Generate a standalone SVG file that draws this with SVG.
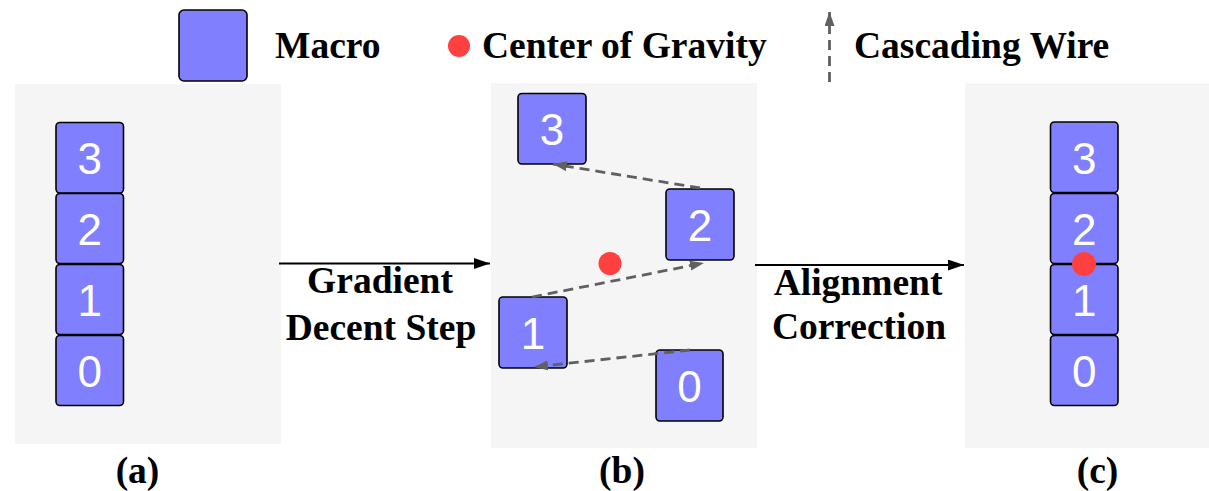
<svg xmlns="http://www.w3.org/2000/svg" width="1209" height="491" viewBox="0 0 1209 491">
<style>
.bg{fill:#f5f5f5}
.macro{fill:#8080ff;stroke:#000;stroke-width:1.6}
.num{font-family:"Liberation Sans",Arial,sans-serif;font-size:44px;fill:#fff;text-anchor:middle}
.lbl{font-family:"Liberation Serif","Times New Roman",serif;font-weight:bold;font-size:37.5px;fill:#000}
.mid{text-anchor:middle}
.wire{stroke:#606060;stroke-width:2.8;stroke-dasharray:10 6;fill:none;marker-end:url(#gh)}
.step{stroke:#000;stroke-width:2.2;fill:none;marker-end:url(#bh)}
.cog{fill:#ff4040}
</style>
<defs>
<marker id="gh" viewBox="0 0 14 10" refX="14" refY="5" markerWidth="14" markerHeight="10" markerUnits="userSpaceOnUse" orient="auto"><path d="M0,0 L14,5 L0,10 Z" fill="#606060"/></marker>
<marker id="bh" viewBox="0 0 16 11" refX="16" refY="5.5" markerWidth="16" markerHeight="11" markerUnits="userSpaceOnUse" orient="auto"><path d="M0,0 L16,5.5 L0,11 Z" fill="#000"/></marker>
</defs>

<g id="legend">
<rect class="macro" x="179" y="10" width="68" height="71" rx="5"/>
<text class="lbl" x="275" y="58">Macro</text>
<circle class="cog" cx="459" cy="46" r="11"/>
<text class="lbl" x="482" y="58">Center of Gravity</text>
<line class="wire" x1="829.5" y1="82" x2="829.5" y2="12"/>
<text class="lbl" x="854" y="58">Cascading Wire</text>
</g>

<g id="panel-a">
<rect class="bg" x="15" y="84" width="266" height="360"/>
<rect class="macro" x="56" y="122.5" width="67.5" height="70.5" rx="4"/>
<text class="num" x="89.7" y="174">3</text>
<rect class="macro" x="56" y="193.5" width="67.5" height="70" rx="4"/>
<text class="num" x="89.7" y="245">2</text>
<rect class="macro" x="56" y="264.5" width="67.5" height="70" rx="4"/>
<text class="num" x="89.7" y="316">1</text>
<rect class="macro" x="56" y="335.5" width="67.5" height="70" rx="4"/>
<text class="num" x="89.7" y="387">0</text>
<text class="lbl mid" x="137.5" y="483">(a)</text>
</g>

<g id="panel-b">
<rect class="bg" x="491" y="83" width="266" height="365"/>
<g id="b-macro3"><rect class="macro" x="518" y="93.5" width="68" height="70.5" rx="4"/><text class="num" x="552" y="145">3</text></g>
<g id="b-macro2"><rect class="macro" x="666" y="189" width="68" height="71" rx="4"/><text class="num" x="700" y="241">2</text></g>
<g id="b-macro1"><rect class="macro" x="499" y="297" width="68" height="71" rx="4"/><text class="num" x="533" y="349">1</text></g>
<g id="b-macro0"><rect class="macro" x="656" y="350" width="67" height="71" rx="4"/><text class="num" x="689.5" y="402">0</text></g>
<circle class="cog" cx="610" cy="263.5" r="11.5"/>
<text class="lbl mid" x="622" y="483">(b)</text>
</g>

<g id="panel-c">
<rect class="bg" x="965" y="83" width="244" height="365"/>
<rect class="macro" x="1050.5" y="122" width="67.5" height="70.5" rx="4"/>
<text class="num" x="1084.2" y="174">3</text>
<rect class="macro" x="1050.5" y="193.5" width="67.5" height="70" rx="4"/>
<text class="num" x="1084.2" y="245">2</text>
<rect class="macro" x="1050.5" y="264.5" width="67.5" height="70" rx="4"/>
<text class="num" x="1084.2" y="316">1</text>
<rect class="macro" x="1050.5" y="335.5" width="67.5" height="70" rx="4"/>
<text class="num" x="1084.2" y="387">0</text>
<circle class="cog" cx="1084" cy="264" r="12"/>
<text class="lbl mid" x="1097.5" y="483">(c)</text>
</g>

<g id="connectors">
<line class="wire" x1="700" y1="188" x2="553" y2="164"/>
<line class="wire" x1="532" y1="297" x2="704" y2="263"/>
<line class="wire" x1="690" y1="350" x2="534" y2="367"/>
<line class="step" x1="279" y1="263.5" x2="490" y2="263.5"/>
<line class="step" x1="755" y1="265" x2="964" y2="265"/>
</g>

<g id="step-labels">
<text class="lbl mid" x="380" y="293">Gradient</text>
<text class="lbl mid" x="381" y="340">Decent Step</text>
<text class="lbl mid" x="858" y="295">Alignment</text>
<text class="lbl mid" x="859" y="339">Correction</text>
</g>
</svg>
